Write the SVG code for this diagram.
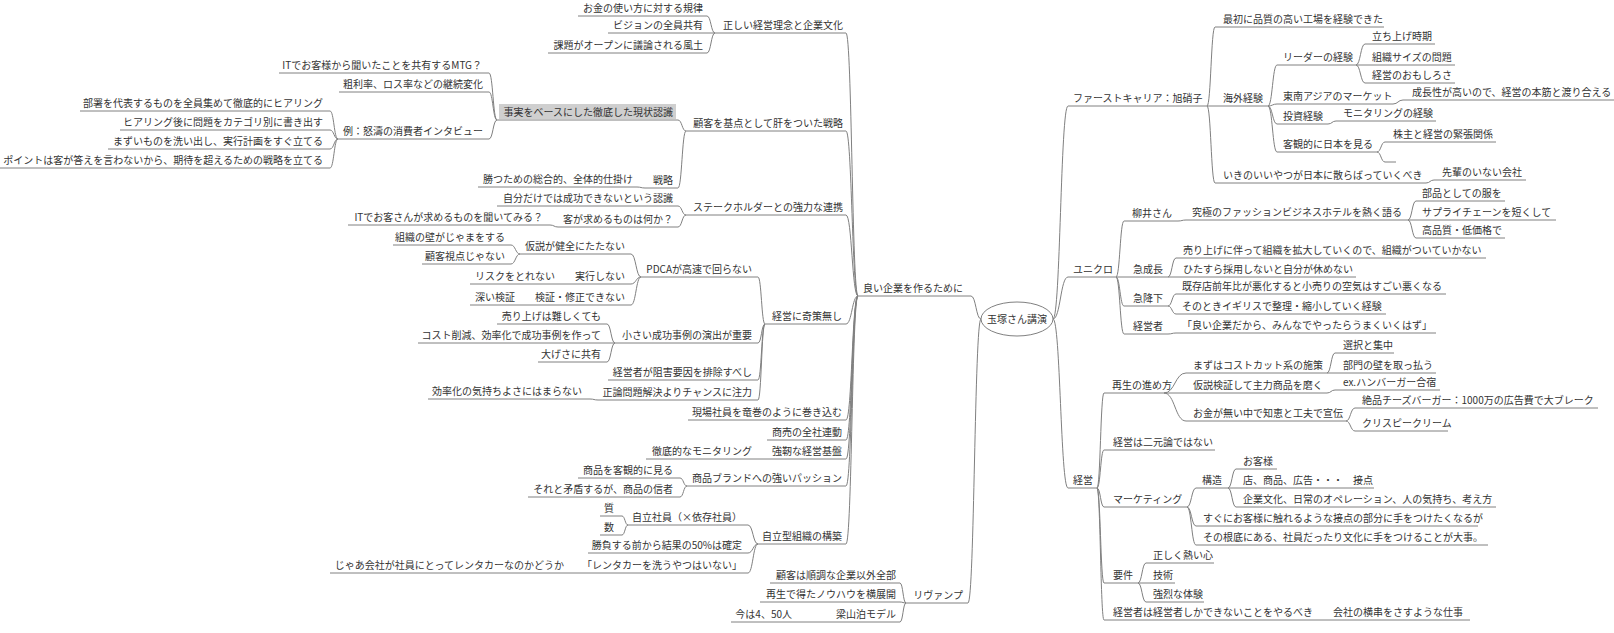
<svg xmlns="http://www.w3.org/2000/svg" width="1614" height="633" viewBox="0 0 1614 633">
<defs><style>
.u,.c{fill:none;stroke:#808080;stroke-width:1}
.t{font-family:'Noto Sans CJK JP','Noto Sans',sans-serif;font-size:10px;fill:#333}
.e{text-anchor:end}
.m{text-anchor:middle}
.hl{fill:#cfcfcf}
</style></defs>
<rect width="1614" height="633" fill="#fff"/>
<g id="connectors" class="c">
<path d="M981 319C976 319 976 296 971 296M981 319C974.5 319 974.5 603 968 603"/>
<path d="M858 296C852 296 852 33 846 33M858 296C852 296 852 131 846 131M858 296C852 296 852 215 846 215M858 296C852 296 852 324 846 324M858 296C852 296 852 420 846 420M858 296C852 296 852 440 846 440M858 296C852 296 852 459 846 459M858 296C852 296 852 486 846 486M858 296C852 296 852 544 846 544"/>
<path d="M715 33C711 33 711 16 707 16M715 33H707M715 33C711 33 711 53 707 53"/>
<path d="M686 131C682 131 682 120 678 120M686 131C682 131 682 188 678 188"/>
<path d="M497 120C493 120 493 73 489 73M497 120C493 120 493 92 489 92M497 120C493 120 493 139 489 139"/>
<path d="M338 139C334 139 334 111 330 111M338 139C334 139 334 130 330 130M338 139C334 139 334 149 330 149M338 139C334 139 334 168 330 168"/>
<path d="M645 188C641 188 641 187 637 187"/>
<path d="M686 215C682 215 682 206 678 206M686 215C682 215 682 227 678 227"/>
<path d="M558 227C554 227 554 225 550 225"/>
<path d="M765 324C761.5 324 761.5 277 758 277M765 324C761.5 324 761.5 343 758 343M765 324C761.5 324 761.5 380 758 380M765 324C761.5 324 761.5 400 758 400"/>
<path d="M641 277C636 277 636 254 631 254M641 277C636 277 636 284 631 284M641 277C636 277 636 305 631 305"/>
<path d="M520 254C515.5 254 515.5 245 511 245M520 254C515.5 254 515.5 264 511 264"/>
<path d="M570 284H562M530 305H522"/>
<path d="M615 343C611 343 611 324 607 324M615 343H607M615 343C611 343 611 362 607 362"/>
<path d="M598 400C594 400 594 399 590 399"/>
<path d="M767 459H760"/>
<path d="M687 486C683.5 486 683.5 478 680 478M687 486C683.5 486 683.5 497 680 497"/>
<path d="M758 544C753 544 753 525 748 525M758 544C753 544 753 553 748 553M758 544C753 544 753 573 748 573"/>
<path d="M628 525C625 525 625 516 622 516M628 525C625 525 625 535 622 535"/>
<path d="M580 573H572"/>
<path d="M906 603C903 603 903 583 900 583M906 603C903 603 903 602 900 602M906 603C903 603 903 622 900 622"/>
<path d="M828 622H820"/>
<path d="M1053 319C1060.5 319 1060.5 106 1068 106M1053 319C1060.5 319 1060.5 277 1068 277M1053 319C1060.5 319 1060.5 488 1068 488"/>
<path d="M1207 106C1211 106 1211 27 1215 27M1207 106H1215M1207 106C1211 106 1211 183 1215 183"/>
<path d="M1268 106C1272.5 106 1272.5 65 1277 65M1268 106C1272.5 106 1272.5 104 1277 104M1268 106C1272.5 106 1272.5 124 1277 124M1268 106C1272.5 106 1272.5 152 1277 152"/>
<path d="M1356 65C1360.5 65 1360.5 44 1365 44M1356 65H1365M1356 65C1360.5 65 1360.5 83 1365 83"/>
<path d="M1393 104C1398 104 1398 100 1403 100"/>
<path d="M1328 124C1332 124 1332 121 1336 121"/>
<path d="M1377 152C1381 152 1381 142 1385 142M1377 152C1381 152 1381 162 1385 162"/>
<path d="M1426 183C1430 183 1430 180 1434 180"/>
<path d="M1116 277C1120 277 1120 221 1124 221M1116 277H1124M1116 277C1120 277 1120 306 1124 306M1116 277C1120 277 1120 334 1124 334"/>
<path d="M1178 221C1182 221 1182 220 1186 220"/>
<path d="M1408 220C1412 220 1412 201 1416 201M1408 220H1416M1408 220C1412 220 1412 238 1416 238"/>
<path d="M1168 277C1172 277 1172 258 1176 258M1168 277H1176"/>
<path d="M1168 306C1172 306 1172 294 1176 294M1168 306C1172 306 1172 314 1176 314"/>
<path d="M1168 334C1172 334 1172 333 1176 333"/>
<path d="M1097 488C1100.5 488 1100.5 393 1104 393M1097 488C1100.5 488 1100.5 450 1104 450M1097 488C1100.5 488 1100.5 507 1104 507M1097 488C1100.5 488 1100.5 583 1104 583M1097 488C1100.5 488 1100.5 620 1104 620"/>
<path d="M1164 393C1175 393 1175 373 1186 373M1164 393H1186M1164 393C1175 393 1175 421 1186 421"/>
<path d="M1327 373C1331 373 1331 353 1335 353M1327 373H1335"/>
<path d="M1327 393C1331 393 1331 390 1335 390"/>
<path d="M1346 421C1350.5 421 1350.5 408 1355 408M1346 421C1350.5 421 1350.5 431 1355 431"/>
<path d="M1187 507C1191.5 507 1191.5 488 1196 488M1187 507C1191.5 507 1191.5 526 1196 526M1187 507C1191.5 507 1191.5 545 1196 545"/>
<path d="M1228 488C1232 488 1232 469 1236 469M1228 488H1236M1228 488C1232 488 1232 507 1236 507"/>
<path d="M1138 583C1142 583 1142 563 1146 563M1138 583H1146M1138 583C1142 583 1142 602 1146 602"/>
<path d="M1318 620H1326"/>
</g>
<g id="n-root"><ellipse cx="1017" cy="319" rx="36" ry="17" fill="#fff" stroke="#808080"/><text class="t m" x="1017" y="323">玉塚さん講演</text></g>
<g id="n-l1"><path class="u" d="M858 296H971"/><text class="t e" x="963" y="292">良い企業を作るために</text></g>
<g id="n-l1-1"><path class="u" d="M715 33H846"/><text class="t e" x="843" y="29">正しい経営理念と企業文化</text></g>
<g id="n-l1-1-1"><path class="u" d="M578 16H707"/><text class="t e" x="703" y="12">お金の使い方に対する規律</text></g>
<g id="n-l1-1-2"><path class="u" d="M608 33H707"/><text class="t e" x="703" y="29">ビジョンの全員共有</text></g>
<g id="n-l1-1-3"><path class="u" d="M548 53H707"/><text class="t e" x="703" y="49">課題がオープンに議論される風土</text></g>
<g id="n-l1-2"><path class="u" d="M686 131H846"/><text class="t e" x="843" y="127">顧客を基点として肝をついた戦略</text></g>
<g id="n-l1-2-1"><rect class="hl" x="499" y="104" width="177" height="15"/><path class="u" d="M497 120H678"/><text class="t e" x="673" y="116">事実をベースにした徹底した現状認識</text></g>
<g id="n-l1-2-1-1"><path class="u" d="M279 73H489"/><text class="t e" x="482" y="69">ITでお客様から聞いたことを共有するMTG？</text></g>
<g id="n-l1-2-1-2"><path class="u" d="M339 92H489"/><text class="t e" x="483" y="88">粗利率、ロス率などの継続変化</text></g>
<g id="n-l1-2-1-3"><path class="u" d="M338 139H489"/><text class="t e" x="483" y="135">例：怒濤の消費者インタビュー</text></g>
<g id="n-l1-2-1-3-1"><path class="u" d="M80 111H330"/><text class="t e" x="323" y="107">部署を代表するものを全員集めて徹底的にヒアリング</text></g>
<g id="n-l1-2-1-3-2"><path class="u" d="M120 130H330"/><text class="t e" x="323" y="126">ヒアリング後に問題をカテゴリ別に書き出す</text></g>
<g id="n-l1-2-1-3-3"><path class="u" d="M108 149H330"/><text class="t e" x="323" y="145">まずいものを洗い出し、実行計画をすぐ立てる</text></g>
<g id="n-l1-2-1-3-4"><path class="u" d="M0 168H330"/><text class="t e" x="323" y="164">ポイントは客が答えを言わないから、期待を超えるための戦略を立てる</text></g>
<g id="n-l1-2-2"><path class="u" d="M645 188H678"/><text class="t e" x="673" y="184">戦略</text></g>
<g id="n-l1-2-2-1"><path class="u" d="M478 187H637"/><text class="t e" x="633" y="183">勝つための総合的、全体的仕掛け</text></g>
<g id="n-l1-3"><path class="u" d="M686 215H846"/><text class="t e" x="843" y="211">ステークホルダーとの強力な連携</text></g>
<g id="n-l1-3-1"><path class="u" d="M497 206H678"/><text class="t e" x="673" y="202">自分だけでは成功できないという認識</text></g>
<g id="n-l1-3-2"><path class="u" d="M558 227H678"/><text class="t e" x="673" y="223">客が求めるものは何か？</text></g>
<g id="n-l1-3-2-1"><path class="u" d="M348 225H550"/><text class="t e" x="543" y="221">ITでお客さんが求めるものを聞いてみる？</text></g>
<g id="n-l1-4"><path class="u" d="M765 324H846"/><text class="t e" x="842" y="320">経営に奇策無し</text></g>
<g id="n-l1-4-1"><path class="u" d="M641 277H758"/><text class="t e" x="752" y="273">PDCAが高速で回らない</text></g>
<g id="n-l1-4-1-1"><path class="u" d="M520 254H631"/><text class="t e" x="625" y="250">仮説が健全にたたない</text></g>
<g id="n-l1-4-1-1-1"><path class="u" d="M393 245H511"/><text class="t e" x="505" y="241">組織の壁がじゃまをする</text></g>
<g id="n-l1-4-1-1-2"><path class="u" d="M422 264H511"/><text class="t e" x="505" y="260">顧客視点じゃない</text></g>
<g id="n-l1-4-1-2"><path class="u" d="M570 284H631"/><text class="t e" x="625" y="280">実行しない</text></g>
<g id="n-l1-4-1-2-1"><path class="u" d="M470 284H562"/><text class="t e" x="555" y="280">リスクをとれない</text></g>
<g id="n-l1-4-1-3"><path class="u" d="M530 305H631"/><text class="t e" x="625" y="301">検証・修正できない</text></g>
<g id="n-l1-4-1-3-1"><path class="u" d="M470 305H522"/><text class="t e" x="515" y="301">深い検証</text></g>
<g id="n-l1-4-2"><path class="u" d="M615 343H758"/><text class="t e" x="752" y="339">小さい成功事例の演出が重要</text></g>
<g id="n-l1-4-2-1"><path class="u" d="M497 324H607"/><text class="t e" x="601" y="320">売り上げは難しくても</text></g>
<g id="n-l1-4-2-2"><path class="u" d="M418 343H607"/><text class="t e" x="601" y="339">コスト削減、効率化で成功事例を作って</text></g>
<g id="n-l1-4-2-3"><path class="u" d="M538 362H607"/><text class="t e" x="601" y="358">大げさに共有</text></g>
<g id="n-l1-4-3"><path class="u" d="M608 380H758"/><text class="t e" x="752" y="376">経営者が阻害要因を排除すべし</text></g>
<g id="n-l1-4-4"><path class="u" d="M598 400H758"/><text class="t e" x="752" y="396">正論問題解決よりチャンスに注力</text></g>
<g id="n-l1-4-4-1"><path class="u" d="M428 399H590"/><text class="t e" x="582" y="395">効率化の気持ちよさにはまらない</text></g>
<g id="n-l1-5"><path class="u" d="M688 420H846"/><text class="t e" x="842" y="416">現場社員を竜巻のように巻き込む</text></g>
<g id="n-l1-6"><path class="u" d="M767 440H846"/><text class="t e" x="842" y="436">商売の全社連動</text></g>
<g id="n-l1-7"><path class="u" d="M767 459H846"/><text class="t e" x="842" y="455">強靭な経営基盤</text></g>
<g id="n-l1-7-1"><path class="u" d="M646 459H760"/><text class="t e" x="752" y="455">徹底的なモニタリング</text></g>
<g id="n-l1-8"><path class="u" d="M687 486H846"/><text class="t e" x="842" y="482">商品ブランドへの強いパッション</text></g>
<g id="n-l1-8-1"><path class="u" d="M578 478H680"/><text class="t e" x="673" y="474">商品を客観的に見る</text></g>
<g id="n-l1-8-2"><path class="u" d="M528 497H680"/><text class="t e" x="673" y="493">それと矛盾するが、商品の信者</text></g>
<g id="n-l1-9"><path class="u" d="M758 544H846"/><text class="t e" x="842" y="540">自立型組織の構築</text></g>
<g id="n-l1-9-1"><path class="u" d="M628 525H748"/><text class="t e" x="742" y="521">自立社員（×依存社員）</text></g>
<g id="n-l1-9-1-1"><path class="u" d="M600 516H622"/><text class="t e" x="614" y="512">質</text></g>
<g id="n-l1-9-1-2"><path class="u" d="M600 535H622"/><text class="t e" x="614" y="531">数</text></g>
<g id="n-l1-9-2"><path class="u" d="M588 553H748"/><text class="t e" x="742" y="549">勝負する前から結果の50%は確定</text></g>
<g id="n-l1-9-3"><path class="u" d="M580 573H748"/><text class="t e" x="742" y="569">「レンタカーを洗うやつはいない」</text></g>
<g id="n-l1-9-3-1"><path class="u" d="M330 573H572"/><text class="t e" x="564" y="569">じゃあ会社が社員にとってレンタカーなのかどうか</text></g>
<g id="n-l2"><path class="u" d="M906 603H968"/><text class="t e" x="963" y="599">リヴァンプ</text></g>
<g id="n-l2-1"><path class="u" d="M770 583H900"/><text class="t e" x="896" y="579">顧客は順調な企業以外全部</text></g>
<g id="n-l2-2"><path class="u" d="M760 602H900"/><text class="t e" x="896" y="598">再生で得たノウハウを横展開</text></g>
<g id="n-l2-3"><path class="u" d="M828 622H900"/><text class="t e" x="896" y="618">梁山泊モデル</text></g>
<g id="n-l2-3-1"><path class="u" d="M731 622H820"/><text class="t e" x="792" y="618">今は4、50人</text></g>
<g id="n-r1"><path class="u" d="M1068 106H1207"/><text class="t" x="1073" y="102">ファーストキャリア：旭硝子</text></g>
<g id="n-r1-1"><path class="u" d="M1215 27H1384"/><text class="t" x="1223" y="23">最初に品質の高い工場を経験できた</text></g>
<g id="n-r1-2"><path class="u" d="M1215 106H1268"/><text class="t" x="1223" y="102">海外経験</text></g>
<g id="n-r1-2-1"><path class="u" d="M1277 65H1356"/><text class="t" x="1283" y="61">リーダーの経験</text></g>
<g id="n-r1-2-1-1"><path class="u" d="M1365 44H1435"/><text class="t" x="1372" y="40">立ち上げ時期</text></g>
<g id="n-r1-2-1-2"><path class="u" d="M1365 65H1455"/><text class="t" x="1372" y="61">組織サイズの問題</text></g>
<g id="n-r1-2-1-3"><path class="u" d="M1365 83H1455"/><text class="t" x="1372" y="79">経営のおもしろさ</text></g>
<g id="n-r1-2-2"><path class="u" d="M1277 104H1393"/><text class="t" x="1283" y="100">東南アジアのマーケット</text></g>
<g id="n-r1-2-2-1"><path class="u" d="M1403 100H1614"/><text class="t" x="1412" y="96">成長性が高いので、経営の本筋と渡り合える</text></g>
<g id="n-r1-2-3"><path class="u" d="M1277 124H1328"/><text class="t" x="1283" y="120">投資経験</text></g>
<g id="n-r1-2-3-1"><path class="u" d="M1336 121H1436"/><text class="t" x="1343" y="117">モニタリングの経験</text></g>
<g id="n-r1-2-4"><path class="u" d="M1277 152H1377"/><text class="t" x="1283" y="148">客観的に日本を見る</text></g>
<g id="n-r1-2-4-1"><path class="u" d="M1385 142H1496"/><text class="t" x="1393" y="138">株主と経営の緊張関係</text></g>
<g id="n-r1-2-4-2"><path class="u" d="M1385 162H1396"/></g>
<g id="n-r1-3"><path class="u" d="M1215 183H1426"/><text class="t" x="1223" y="179">いきのいいやつが日本に散らばっていくべき</text></g>
<g id="n-r1-3-1"><path class="u" d="M1434 180H1526"/><text class="t" x="1442" y="176">先輩のいない会社</text></g>
<g id="n-r2"><path class="u" d="M1068 277H1116"/><text class="t" x="1073" y="273">ユニクロ</text></g>
<g id="n-r2-1"><path class="u" d="M1124 221H1178"/><text class="t" x="1132" y="217">柳井さん</text></g>
<g id="n-r2-1-1"><path class="u" d="M1186 220H1408"/><text class="t" x="1192" y="216">究極のファッションビジネスホテルを熱く語る</text></g>
<g id="n-r2-1-1-1"><path class="u" d="M1416 201H1505"/><text class="t" x="1422" y="197">部品としての服を</text></g>
<g id="n-r2-1-1-2"><path class="u" d="M1416 220H1556"/><text class="t" x="1422" y="216">サプライチェーンを短くして</text></g>
<g id="n-r2-1-1-3"><path class="u" d="M1416 238H1505"/><text class="t" x="1422" y="234">高品質・低価格で</text></g>
<g id="n-r2-2"><path class="u" d="M1124 277H1168"/><text class="t" x="1133" y="273">急成長</text></g>
<g id="n-r2-2-1"><path class="u" d="M1176 258H1486"/><text class="t" x="1183" y="254">売り上げに伴って組織を拡大していくので、組織がついていかない</text></g>
<g id="n-r2-2-2"><path class="u" d="M1176 277H1356"/><text class="t" x="1183" y="273">ひたすら採用しないと自分が休めない</text></g>
<g id="n-r2-3"><path class="u" d="M1124 306H1168"/><text class="t" x="1133" y="302">急降下</text></g>
<g id="n-r2-3-1"><path class="u" d="M1176 294H1446"/><text class="t" x="1182" y="290">既存店前年比が悪化すると小売りの空気はすごい悪くなる</text></g>
<g id="n-r2-3-2"><path class="u" d="M1176 314H1386"/><text class="t" x="1182" y="310">そのときイギリスで整理・縮小していく経験</text></g>
<g id="n-r2-4"><path class="u" d="M1124 334H1168"/><text class="t" x="1133" y="330">経営者</text></g>
<g id="n-r2-4-1"><path class="u" d="M1176 333H1436"/><text class="t" x="1182" y="329">「良い企業だから、みんなでやったらうまくいくはず」</text></g>
<g id="n-r3"><path class="u" d="M1068 488H1097"/><text class="t" x="1073" y="484">経営</text></g>
<g id="n-r3-1"><path class="u" d="M1104 393H1164"/><text class="t" x="1112" y="389">再生の進め方</text></g>
<g id="n-r3-1-1"><path class="u" d="M1186 373H1327"/><text class="t" x="1193" y="369">まずはコストカット系の施策</text></g>
<g id="n-r3-1-1-1"><path class="u" d="M1335 353H1394"/><text class="t" x="1343" y="349">選択と集中</text></g>
<g id="n-r3-1-1-2"><path class="u" d="M1335 373H1436"/><text class="t" x="1343" y="369">部門の壁を取っ払う</text></g>
<g id="n-r3-1-2"><path class="u" d="M1186 393H1327"/><text class="t" x="1193" y="389">仮説検証して主力商品を磨く</text></g>
<g id="n-r3-1-2-1"><path class="u" d="M1335 390H1440"/><text class="t" x="1343" y="386">ex.ハンバーガー合宿</text></g>
<g id="n-r3-1-3"><path class="u" d="M1186 421H1346"/><text class="t" x="1193" y="417">お金が無い中で知恵と工夫で宣伝</text></g>
<g id="n-r3-1-3-1"><path class="u" d="M1355 408H1598"/><text class="t" x="1362" y="404">絶品チーズバーガー：1000万の広告費で大ブレーク</text></g>
<g id="n-r3-1-3-2"><path class="u" d="M1355 431H1448"/><text class="t" x="1362" y="427">クリスピークリーム</text></g>
<g id="n-r3-2"><path class="u" d="M1104 450H1215"/><text class="t" x="1113" y="446">経営は二元論ではない</text></g>
<g id="n-r3-3"><path class="u" d="M1104 507H1187"/><text class="t" x="1113" y="503">マーケティング</text></g>
<g id="n-r3-3-1"><path class="u" d="M1196 488H1228"/><text class="t" x="1202" y="484">構造</text></g>
<g id="n-r3-3-1-1"><path class="u" d="M1236 469H1277"/><text class="t" x="1243" y="465">お客様</text></g>
<g id="n-r3-3-1-2"><path class="u" d="M1236 488H1374"/><text class="t" x="1243" y="484">店、商品、広告・・・　接点</text></g>
<g id="n-r3-3-1-3"><path class="u" d="M1236 507H1496"/><text class="t" x="1243" y="503">企業文化、日常のオペレーション、人の気持ち、考え方</text></g>
<g id="n-r3-3-2"><path class="u" d="M1196 526H1478"/><text class="t" x="1203" y="522">すぐにお客様に触れるような接点の部分に手をつけたくなるが</text></g>
<g id="n-r3-3-3"><path class="u" d="M1196 545H1488"/><text class="t" x="1203" y="541">その根底にある、社員だったり文化に手をつけることが大事。</text></g>
<g id="n-r3-4"><path class="u" d="M1104 583H1138"/><text class="t" x="1113" y="579">要件</text></g>
<g id="n-r3-4-1"><path class="u" d="M1146 563H1214"/><text class="t" x="1153" y="559">正しく熱い心</text></g>
<g id="n-r3-4-2"><path class="u" d="M1146 583H1175"/><text class="t" x="1153" y="579">技術</text></g>
<g id="n-r3-4-3"><path class="u" d="M1146 602H1204"/><text class="t" x="1153" y="598">強烈な体験</text></g>
<g id="n-r3-5"><path class="u" d="M1104 620H1318"/><text class="t" x="1113" y="616">経営者は経営者しかできないことをやるべき</text></g>
<g id="n-r3-5-1"><path class="u" d="M1326 620H1470"/><text class="t" x="1333" y="616">会社の横串をさすような仕事</text></g>
</svg>
